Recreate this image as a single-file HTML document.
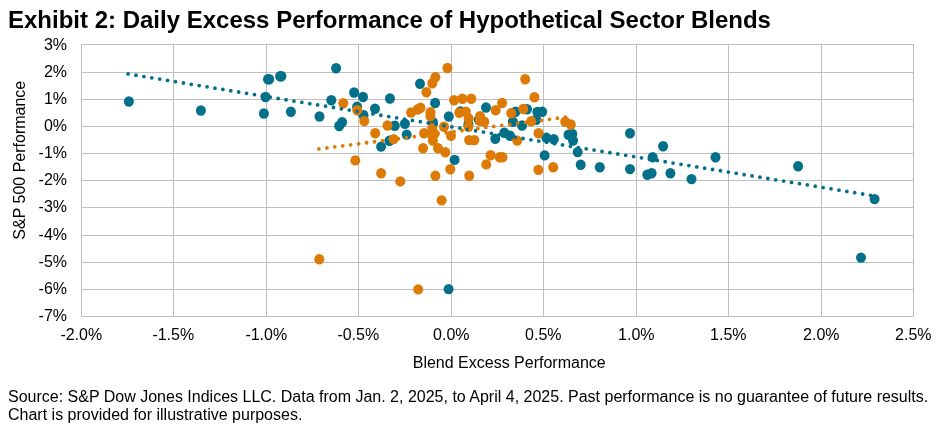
<!DOCTYPE html>
<html lang="en"><head><meta charset="utf-8"><title>Exhibit 2</title>
<style>
html,body{margin:0;padding:0;background:#fff;}
body{width:939px;height:432px;overflow:hidden;font-family:"Liberation Sans",sans-serif;}
svg{display:block;will-change:transform;}
text{font-family:"Liberation Sans",sans-serif;fill:#000;}
.t{font-size:24px;font-weight:bold;}
.a{font-size:16px;}
</style></head><body>
<svg width="939" height="432" viewBox="0 0 939 432">
<rect x="0" y="0" width="939" height="432" fill="#ffffff"/>
<text class="t" x="8" y="27.8">Exhibit 2: Daily Excess Performance of Hypothetical Sector Blends</text>
<g stroke="#bfbfbf" stroke-width="1" fill="none" shape-rendering="crispEdges">
<line x1="81.5" y1="44.0" x2="81.5" y2="317.0"/>
<line x1="173.5" y1="44.0" x2="173.5" y2="317.0"/>
<line x1="266.5" y1="44.0" x2="266.5" y2="317.0"/>
<line x1="358.5" y1="44.0" x2="358.5" y2="317.0"/>
<line x1="451.5" y1="44.0" x2="451.5" y2="317.0"/>
<line x1="543.5" y1="44.0" x2="543.5" y2="317.0"/>
<line x1="636.5" y1="44.0" x2="636.5" y2="317.0"/>
<line x1="728.5" y1="44.0" x2="728.5" y2="317.0"/>
<line x1="821.5" y1="44.0" x2="821.5" y2="317.0"/>
<line x1="913.5" y1="44.0" x2="913.5" y2="317.0"/>
<line x1="81.0" y1="44.5" x2="914.0" y2="44.5"/>
<line x1="81.0" y1="72.5" x2="914.0" y2="72.5"/>
<line x1="81.0" y1="99.5" x2="914.0" y2="99.5"/>
<line x1="81.0" y1="126.5" x2="914.0" y2="126.5"/>
<line x1="81.0" y1="153.5" x2="914.0" y2="153.5"/>
<line x1="81.0" y1="180.5" x2="914.0" y2="180.5"/>
<line x1="81.0" y1="207.5" x2="914.0" y2="207.5"/>
<line x1="81.0" y1="235.5" x2="914.0" y2="235.5"/>
<line x1="81.0" y1="262.5" x2="914.0" y2="262.5"/>
<line x1="81.0" y1="289.5" x2="914.0" y2="289.5"/>
<line x1="81.0" y1="316.5" x2="914.0" y2="316.5"/>
</g>
<g class="a" text-anchor="end">
<text x="67" y="49.80">3%</text>
<text x="67" y="76.90">2%</text>
<text x="67" y="104.00">1%</text>
<text x="67" y="131.10">0%</text>
<text x="67" y="158.20">-1%</text>
<text x="67" y="185.30">-2%</text>
<text x="67" y="212.40">-3%</text>
<text x="67" y="239.50">-4%</text>
<text x="67" y="266.60">-5%</text>
<text x="67" y="293.70">-6%</text>
<text x="67" y="320.80">-7%</text>
</g>
<g class="a" text-anchor="middle">
<text x="81.30" y="339.8">-2.0%</text>
<text x="173.30" y="339.8">-1.5%</text>
<text x="266.30" y="339.8">-1.0%</text>
<text x="358.30" y="339.8">-0.5%</text>
<text x="451.30" y="339.8">0.0%</text>
<text x="543.30" y="339.8">0.5%</text>
<text x="636.30" y="339.8">1.0%</text>
<text x="728.30" y="339.8">1.5%</text>
<text x="821.30" y="339.8">2.0%</text>
<text x="913.30" y="339.8">2.5%</text>
</g>
<text class="a" text-anchor="middle" x="509.2" y="368">Blend Excess Performance</text>
<text class="a" text-anchor="middle" transform="translate(24.6,160.2) rotate(-90)">S&amp;P 500 Performance</text>
<g fill="#03708a">
<ellipse cx="128.9" cy="101.5" rx="5.0" ry="5.2"/>
<ellipse cx="200.9" cy="110.5" rx="5.0" ry="5.2"/>
<ellipse cx="268.0" cy="79.2" rx="5.0" ry="5.2"/>
<ellipse cx="269.2" cy="79.2" rx="5.0" ry="5.2"/>
<ellipse cx="280.1" cy="76.2" rx="5.0" ry="5.2"/>
<ellipse cx="281.4" cy="76.2" rx="5.0" ry="5.2"/>
<ellipse cx="265.5" cy="97.0" rx="5.0" ry="5.2"/>
<ellipse cx="263.9" cy="113.5" rx="5.0" ry="5.2"/>
<ellipse cx="290.9" cy="111.8" rx="5.0" ry="5.2"/>
<ellipse cx="336.1" cy="68.2" rx="5.0" ry="5.2"/>
<ellipse cx="354.1" cy="92.5" rx="5.0" ry="5.2"/>
<ellipse cx="363.0" cy="97.0" rx="5.0" ry="5.2"/>
<ellipse cx="331.3" cy="100.2" rx="5.0" ry="5.2"/>
<ellipse cx="390.0" cy="98.5" rx="5.0" ry="5.2"/>
<ellipse cx="420.0" cy="83.7" rx="5.0" ry="5.2"/>
<ellipse cx="435.1" cy="103.0" rx="5.0" ry="5.2"/>
<ellipse cx="357.1" cy="106.8" rx="5.0" ry="5.2"/>
<ellipse cx="375.0" cy="108.8" rx="5.0" ry="5.2"/>
<ellipse cx="319.5" cy="116.5" rx="5.0" ry="5.2"/>
<ellipse cx="363.5" cy="115.3" rx="5.0" ry="5.2"/>
<ellipse cx="342.1" cy="122.2" rx="5.0" ry="5.2"/>
<ellipse cx="339.2" cy="126.0" rx="5.0" ry="5.2"/>
<ellipse cx="448.8" cy="116.5" rx="5.0" ry="5.2"/>
<ellipse cx="394.8" cy="125.7" rx="5.0" ry="5.2"/>
<ellipse cx="404.9" cy="123.8" rx="5.0" ry="5.2"/>
<ellipse cx="406.7" cy="134.6" rx="5.0" ry="5.2"/>
<ellipse cx="381.1" cy="146.6" rx="5.0" ry="5.2"/>
<ellipse cx="389.4" cy="140.7" rx="5.0" ry="5.2"/>
<ellipse cx="432.9" cy="122.2" rx="5.0" ry="5.2"/>
<ellipse cx="454.6" cy="159.9" rx="5.0" ry="5.2"/>
<ellipse cx="486.0" cy="107.5" rx="5.0" ry="5.2"/>
<ellipse cx="460.4" cy="111.5" rx="5.0" ry="5.2"/>
<ellipse cx="468.4" cy="124.2" rx="5.0" ry="5.2"/>
<ellipse cx="478.7" cy="119.7" rx="5.0" ry="5.2"/>
<ellipse cx="515.5" cy="111.7" rx="5.0" ry="5.2"/>
<ellipse cx="527.0" cy="109.2" rx="5.0" ry="5.2"/>
<ellipse cx="537.4" cy="112.0" rx="5.0" ry="5.2"/>
<ellipse cx="542.2" cy="111.8" rx="5.0" ry="5.2"/>
<ellipse cx="536.3" cy="119.8" rx="5.0" ry="5.2"/>
<ellipse cx="512.9" cy="121.8" rx="5.0" ry="5.2"/>
<ellipse cx="522.1" cy="125.5" rx="5.0" ry="5.2"/>
<ellipse cx="495.3" cy="138.8" rx="5.0" ry="5.2"/>
<ellipse cx="504.3" cy="132.8" rx="5.0" ry="5.2"/>
<ellipse cx="510.0" cy="135.8" rx="5.0" ry="5.2"/>
<ellipse cx="546.3" cy="137.8" rx="5.0" ry="5.2"/>
<ellipse cx="553.8" cy="139.2" rx="5.0" ry="5.2"/>
<ellipse cx="568.5" cy="134.7" rx="5.0" ry="5.2"/>
<ellipse cx="572.3" cy="133.9" rx="5.0" ry="5.2"/>
<ellipse cx="573.1" cy="140.6" rx="5.0" ry="5.2"/>
<ellipse cx="577.7" cy="152.1" rx="5.0" ry="5.2"/>
<ellipse cx="544.6" cy="155.4" rx="5.0" ry="5.2"/>
<ellipse cx="580.7" cy="164.7" rx="5.0" ry="5.2"/>
<ellipse cx="599.8" cy="167.3" rx="5.0" ry="5.2"/>
<ellipse cx="630.0" cy="133.2" rx="5.0" ry="5.2"/>
<ellipse cx="663.1" cy="146.3" rx="5.0" ry="5.2"/>
<ellipse cx="652.7" cy="157.3" rx="5.0" ry="5.2"/>
<ellipse cx="715.5" cy="157.2" rx="5.0" ry="5.2"/>
<ellipse cx="630.0" cy="169.1" rx="5.0" ry="5.2"/>
<ellipse cx="647.3" cy="174.8" rx="5.0" ry="5.2"/>
<ellipse cx="651.6" cy="173.2" rx="5.0" ry="5.2"/>
<ellipse cx="670.4" cy="173.2" rx="5.0" ry="5.2"/>
<ellipse cx="691.5" cy="179.1" rx="5.0" ry="5.2"/>
<ellipse cx="798.1" cy="166.2" rx="5.0" ry="5.2"/>
<ellipse cx="874.6" cy="199.1" rx="5.0" ry="5.2"/>
<ellipse cx="861.0" cy="257.6" rx="5.0" ry="5.2"/>
<ellipse cx="448.6" cy="289.1" rx="5.0" ry="5.2"/>
</g>
<g fill="#dd7a06">
<ellipse cx="447.4" cy="68.0" rx="5.0" ry="5.2"/>
<ellipse cx="435.4" cy="77.2" rx="5.0" ry="5.2"/>
<ellipse cx="432.3" cy="83.2" rx="5.0" ry="5.2"/>
<ellipse cx="426.4" cy="92.3" rx="5.0" ry="5.2"/>
<ellipse cx="343.3" cy="103.2" rx="5.0" ry="5.2"/>
<ellipse cx="357.3" cy="110.2" rx="5.0" ry="5.2"/>
<ellipse cx="364.3" cy="121.0" rx="5.0" ry="5.2"/>
<ellipse cx="411.1" cy="112.5" rx="5.0" ry="5.2"/>
<ellipse cx="417.7" cy="109.5" rx="5.0" ry="5.2"/>
<ellipse cx="420.5" cy="107.8" rx="5.0" ry="5.2"/>
<ellipse cx="430.4" cy="112.3" rx="5.0" ry="5.2"/>
<ellipse cx="430.4" cy="116.2" rx="5.0" ry="5.2"/>
<ellipse cx="454.1" cy="100.3" rx="5.0" ry="5.2"/>
<ellipse cx="462.4" cy="98.7" rx="5.0" ry="5.2"/>
<ellipse cx="471.3" cy="98.8" rx="5.0" ry="5.2"/>
<ellipse cx="525.2" cy="79.3" rx="5.0" ry="5.2"/>
<ellipse cx="534.4" cy="97.3" rx="5.0" ry="5.2"/>
<ellipse cx="502.1" cy="103.0" rx="5.0" ry="5.2"/>
<ellipse cx="495.7" cy="110.2" rx="5.0" ry="5.2"/>
<ellipse cx="511.2" cy="113.2" rx="5.0" ry="5.2"/>
<ellipse cx="523.3" cy="109.0" rx="5.0" ry="5.2"/>
<ellipse cx="459.3" cy="112.8" rx="5.0" ry="5.2"/>
<ellipse cx="465.8" cy="111.8" rx="5.0" ry="5.2"/>
<ellipse cx="468.6" cy="118.5" rx="5.0" ry="5.2"/>
<ellipse cx="480.0" cy="116.2" rx="5.0" ry="5.2"/>
<ellipse cx="484.3" cy="121.8" rx="5.0" ry="5.2"/>
<ellipse cx="479.9" cy="120.8" rx="5.0" ry="5.2"/>
<ellipse cx="531.2" cy="121.2" rx="5.0" ry="5.2"/>
<ellipse cx="565.2" cy="121.7" rx="5.0" ry="5.2"/>
<ellipse cx="570.8" cy="124.5" rx="5.0" ry="5.2"/>
<ellipse cx="387.5" cy="125.5" rx="5.0" ry="5.2"/>
<ellipse cx="375.2" cy="133.2" rx="5.0" ry="5.2"/>
<ellipse cx="393.6" cy="139.1" rx="5.0" ry="5.2"/>
<ellipse cx="355.3" cy="160.4" rx="5.0" ry="5.2"/>
<ellipse cx="381.1" cy="173.3" rx="5.0" ry="5.2"/>
<ellipse cx="424.1" cy="133.2" rx="5.0" ry="5.2"/>
<ellipse cx="432.2" cy="128.1" rx="5.0" ry="5.2"/>
<ellipse cx="432.0" cy="134.6" rx="5.0" ry="5.2"/>
<ellipse cx="432.9" cy="140.6" rx="5.0" ry="5.2"/>
<ellipse cx="434.5" cy="133.8" rx="5.0" ry="5.2"/>
<ellipse cx="444.0" cy="126.8" rx="5.0" ry="5.2"/>
<ellipse cx="451.0" cy="135.8" rx="5.0" ry="5.2"/>
<ellipse cx="423.1" cy="148.2" rx="5.0" ry="5.2"/>
<ellipse cx="438.0" cy="148.2" rx="5.0" ry="5.2"/>
<ellipse cx="445.3" cy="152.2" rx="5.0" ry="5.2"/>
<ellipse cx="450.3" cy="169.2" rx="5.0" ry="5.2"/>
<ellipse cx="435.4" cy="175.7" rx="5.0" ry="5.2"/>
<ellipse cx="468.4" cy="126.8" rx="5.0" ry="5.2"/>
<ellipse cx="469.1" cy="140.1" rx="5.0" ry="5.2"/>
<ellipse cx="474.4" cy="140.1" rx="5.0" ry="5.2"/>
<ellipse cx="538.5" cy="133.2" rx="5.0" ry="5.2"/>
<ellipse cx="517.2" cy="140.6" rx="5.0" ry="5.2"/>
<ellipse cx="490.6" cy="155.2" rx="5.0" ry="5.2"/>
<ellipse cx="499.7" cy="157.3" rx="5.0" ry="5.2"/>
<ellipse cx="502.5" cy="157.3" rx="5.0" ry="5.2"/>
<ellipse cx="486.2" cy="164.4" rx="5.0" ry="5.2"/>
<ellipse cx="469.2" cy="175.7" rx="5.0" ry="5.2"/>
<ellipse cx="538.4" cy="169.9" rx="5.0" ry="5.2"/>
<ellipse cx="553.2" cy="167.2" rx="5.0" ry="5.2"/>
<ellipse cx="400.3" cy="181.4" rx="5.0" ry="5.2"/>
<ellipse cx="441.6" cy="200.4" rx="5.0" ry="5.2"/>
<ellipse cx="319.3" cy="259.2" rx="5.0" ry="5.2"/>
<ellipse cx="418.2" cy="289.4" rx="5.0" ry="5.2"/>
</g>
<line x1="128.1" y1="73.95" x2="874.5" y2="195.95" stroke="#03708a" stroke-width="3.8" stroke-linecap="round" stroke-dasharray="0 8.003"/>
<line x1="318.9" y1="148.9" x2="570.7" y2="116.55" stroke="#dd7a06" stroke-width="3.8" stroke-linecap="round" stroke-dasharray="0 8.015"/>
<text class="a" x="8" y="401.8">Source: S&amp;P Dow Jones Indices LLC. Data from Jan. 2, 2025, to April 4, 2025. Past performance is no guarantee of future results.</text>
<text class="a" x="8" y="419.5">Chart is provided for illustrative purposes.</text>
</svg></body></html>
